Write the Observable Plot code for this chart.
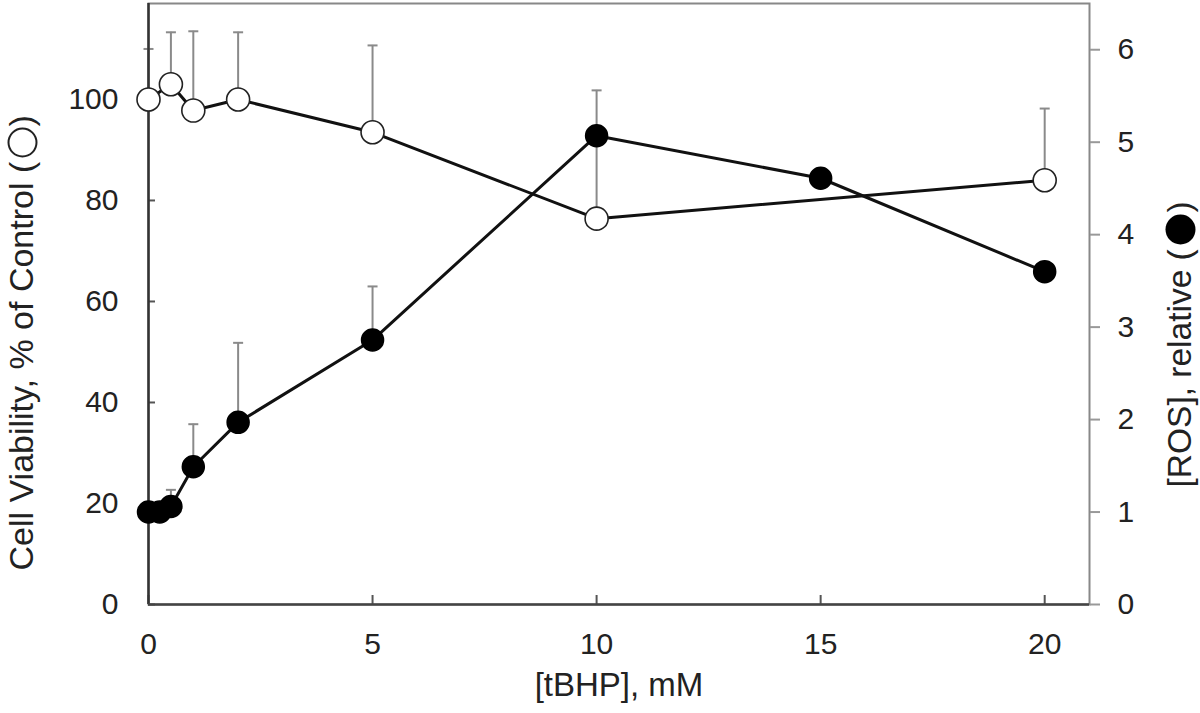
<!DOCTYPE html>
<html>
<head>
<meta charset="utf-8">
<script src="https://cdn.jsdelivr.net/npm/d3@7"></script>
<script src="https://cdn.jsdelivr.net/npm/@observablehq/plot@0.6"></script>
<style>
  html, body { margin: 0; padding: 0; background: #fff; }
  #chart { width: 1200px; height: 713px; }
</style>
</head>
<body>
<div id="chart"></div>
<script>
// --- Data ---
// Cell viability (open circles, left axis, % of control)
const viabConc = [0, 0.5, 1, 2, 5, 10, 20];
const viabValue = [100, 103, 97.8, 100, 93.5, 76.4, 84];
const viabErr = [10, 10.3, 15.7, 13.3, 17.2, 25.4, 14.2];

// ROS (filled circles, right axis, relative)
const rosConc = [0, 0.25, 0.5, 1, 2, 5, 10, 15, 20];
const rosValue = [1.0, 1.0, 1.06, 1.49, 1.97, 2.86, 5.07, 4.61, 3.6];
const rosErr = [0, 0, 0.18, 0.46, 0.86, 0.58, 0, 0, 0];

// Axis ticks
const xTicks = [0, 5, 10, 15, 20];
const leftTicks = [0, 20, 40, 60, 80, 100];
const rightTicks = [0, 1, 2, 3, 4, 5, 6];

// Axis titles
const xTitle = "[tBHP], mM";
const leftTitle = "Cell Viability, % of Control (";
const rightTitle = "[ROS], relative (";

// Axis extents
const leftMax = 119;
const rightMax = 6.5;
const k = leftMax / rightMax; // ROS -> left-scale units

const viab = viabConc.map((c, i) => ({c, v: viabValue[i], e: viabErr[i]}));
const ros = rosConc.map((c, i) => ({c, v: rosValue[i] * k, e: rosErr[i] * k}));
const viabE = viab.filter(d => d.e > 0);
const rosE = ros.filter(d => d.e > 0);

const capSymbol = {
  draw(context, size) {
    context.moveTo(-5, 0);
    context.lineTo(5, 0);
  }
};

const errColor = "#8a8a8a";
const textColor = "#222";

const chart = Plot.plot({
  width: 1200,
  height: 713,
  marginLeft: 148,
  marginRight: 111,
  marginTop: 3,
  marginBottom: 109,
  style: {fontFamily: "'Liberation Sans', Arial, sans-serif", fontSize: "30px", color: textColor, background: "#fff"},
  x: {domain: [0, 21]},
  y: {domain: [0, leftMax]},
  marks: [
    Plot.frame({stroke: "#888", strokeWidth: 2}),
    // error bars
    Plot.ruleX(viabE, {x: "c", y1: "v", y2: d => d.v + d.e, stroke: errColor, strokeWidth: 2}),
    Plot.dot(viabE, {x: "c", y: d => d.v + d.e, symbol: capSymbol, stroke: errColor, strokeWidth: 2, r: 5}),
    Plot.ruleX(rosE, {x: "c", y1: "v", y2: d => d.v + d.e, stroke: errColor, strokeWidth: 2}),
    Plot.dot(rosE, {x: "c", y: d => d.v + d.e, symbol: capSymbol, stroke: errColor, strokeWidth: 2, r: 5}),
    // axes
    Plot.axisX({ticks: xTicks, tickSize: -9, tickPadding: 37, stroke: "#555", strokeWidth: 2, label: null, fill: textColor}),
    Plot.axisY({anchor: "left", ticks: leftTicks, tickSize: -7, tickPadding: 37, stroke: "#555", strokeWidth: 2, label: null, fill: textColor}),
    Plot.axisY({anchor: "right", ticks: rightTicks.map(t => t * k), tickFormat: d => d3.format("d")(Math.round(d / k)), tickSize: 10, tickPadding: 18, stroke: "#999", strokeWidth: 2, label: null, fill: textColor}),
    Plot.ruleX([0], {stroke: "#333", strokeWidth: 2.5}),
    Plot.ruleY([0], {stroke: "#444", strokeWidth: 2.5}),
    // lines
    Plot.line(viab, {x: "c", y: "v", stroke: "#111", strokeWidth: 3}),
    Plot.line(ros, {x: "c", y: "v", stroke: "#111", strokeWidth: 3}),
    // points
    Plot.dot(viab, {x: "c", y: "v", r: 11.5, fill: "white", stroke: "#222", strokeWidth: 1.6}),
    Plot.dot(ros, {x: "c", y: "v", r: 11, fill: "#000", stroke: "#000"}),
    // x title
    Plot.text([xTitle], {frameAnchor: "bottom", dy: 91, fontSize: 33, fill: textColor}),
    // left title with open-circle glyph
    Plot.text([leftTitle], {frameAnchor: "left", textAnchor: "start", dx: -126, dy: 266.5, rotate: -90, fontSize: 34, fill: textColor}),
    Plot.dot([0], {frameAnchor: "left", dx: -126, dy: -161.5, r: 14, fill: "none", stroke: textColor, strokeWidth: 2}),
    Plot.text([")"], {frameAnchor: "left", textAnchor: "start", dx: -126, dy: -177.5, rotate: -90, fontSize: 34, fill: textColor}),
    // right title with filled-circle glyph
    Plot.text([rightTitle], {frameAnchor: "right", textAnchor: "start", dx: 91, dy: 183.5, rotate: -90, fontSize: 33.5, fill: textColor}),
    Plot.dot([0], {frameAnchor: "right", dx: 91, dy: -74.5, r: 15, fill: "#000"}),
    Plot.text([")"], {frameAnchor: "right", textAnchor: "start", dx: 91, dy: -91.5, rotate: -90, fontSize: 33.5, fill: textColor})
  ]
});
document.getElementById("chart").appendChild(chart);
</script>
</body>
</html>
